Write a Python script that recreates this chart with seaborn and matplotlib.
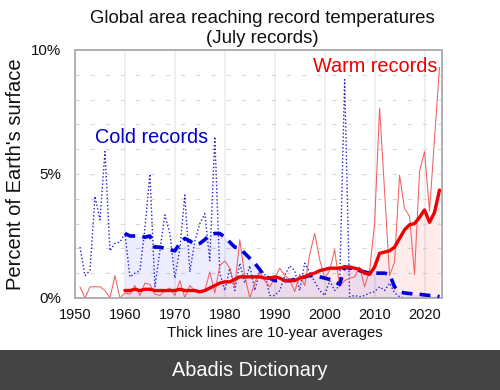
import matplotlib
matplotlib.use("Agg")
import matplotlib.pyplot as plt
import seaborn as sns
import pandas as pd
import numpy as np
from matplotlib.patches import Rectangle

years = list(range(1951, 2024))
cold_yearly = [2.05, 0.9, 1.1, 4.1, 3.15, 5.9, 1.9, 2.2, 2.25,
               2.6, 0.85, 1.0, 1.1, 2.8, 5.0, 0.45, 1.9, 3.35, 2.6,
               0.8, 2.0, 4.15, 1.05, 2.3, 3.0, 3.4, 1.5, 6.5, 1.0,
               0.3, 1.2, 0.3, 1.4, 0.6, 1.3, 0.3, 1.1, 1.0, 0.1,
               0.1, 0.3, 0.9, 1.3, 1.1, 0.3, 1.4, 1.05, 0.65, 0.3,
               0.1, 0.7, 0.3, 0.5, 8.8, 0.05, 0.1, 0.05, 0.1, 0.2,
               0.25, 0.45, 0.3, 0.6, 0.2, 0.05, 0.0, 0.0, 0.0, 0.0,
               0.0, 0.0, 0.0, 0.0]
warm_yearly = [0.45, 0.0, 0.45, 0.45, 0.45, 0.3, 0.0, 0.9, 0.0,
               0.2, 0.15, 0.5, 0.1, 0.6, 0.55, 0.15, 0.1, 0.3, 0.4,
               0.1, 0.7, 0.0, 0.5, 0.3, 0.2, 0.3, 1.05, 0.2, 1.3,
               1.5, 1.2, 0.45, 2.35, 0.9, 0.0, 0.6, 1.1, 0.7, 0.45,
               0.8, 1.2, 0.9, 0.75, 0.25, 0.95, 0.5, 1.75, 2.6, 1.55,
               0.8, 1.1, 1.95, 0.45, 0.7, 0.8, 0.85, 1.25, 0.45, 1.1,
               3.0, 7.65, 4.3, 0.9, 1.45, 4.95, 3.6, 3.3, 0.95, 5.1,
               5.9, 3.5, 6.4, 9.3]

avg_years = list(range(1960, 2024))
cold_avg = [2.6, 2.5, 2.5, 2.5, 2.45, 2.5, 2.05, 2.05, 2.0, 1.95,
            1.9, 2.2, 2.4, 2.3, 2.15, 2.2, 2.35, 2.55, 2.6, 2.6,
            2.45, 2.25, 2.05, 2.0, 1.8, 1.6, 1.4, 1.15, 0.85, 0.8,
            0.7, 0.7, 0.7, 0.7, 0.75, 0.8, 0.85, 0.9, 0.9, 0.85,
            0.8, 0.75, 0.65, 0.55, 1.25, 1.2, 1.2, 1.1, 1.05, 1.0,
            1.0, 1.0, 1.0, 0.95, 0.45, 0.25, 0.2, 0.18, 0.15, 0.15,
            0.12, 0.1, 0.1, 0.05]
warm_avg = [0.3, 0.3, 0.35, 0.3, 0.35, 0.35, 0.3, 0.3, 0.3, 0.3,
            0.3, 0.35, 0.3, 0.3, 0.3, 0.25, 0.3, 0.4, 0.5, 0.6,
            0.65, 0.65, 0.75, 0.85, 0.85, 0.85, 0.85, 0.85, 0.8, 0.8,
            0.85, 0.8, 0.7, 0.7, 0.7, 0.8, 0.85, 0.95, 1.0, 1.1,
            1.15, 1.2, 1.2, 1.2, 1.25, 1.25, 1.2, 1.15, 1.0, 0.95,
            1.25, 1.8, 1.85, 1.9, 2.05, 2.4, 2.75, 2.95, 3.0, 3.25,
            3.55, 3.05, 3.45, 4.35]

x_ticks = [1950, 1960, 1970, 1980, 1990, 2000, 2010, 2020]
y_ticks = [0, 5, 10]
y_tick_labels = ["0%", "5%", "10%"]

df_yearly = pd.DataFrame({"year": years, "cold": cold_yearly, "warm": warm_yearly})
df_avg = pd.DataFrame({"year": avg_years, "cold": cold_avg, "warm": warm_avg})

sns.set_style("white")
plt.rcParams["font.family"] = ["Liberation Sans", "DejaVu Sans"]

fig = plt.figure(figsize=(5, 3.9), dpi=100)
ax = fig.add_axes([0.15, 0.236, 0.734, 0.636])

# grid
for xv in x_ticks[1:]:
    ax.axvline(xv, color="#ececec", lw=1.2, zorder=0)
for yv in range(1, 10):
    ax.axhline(yv, color="#d6d6d6", lw=0.8, ls=(0, (3.6, 10)), zorder=0)

ax.fill_between(df_avg["year"], df_avg["warm"], color="#ff0000", alpha=0.08, lw=0, zorder=1)
ax.fill_between(df_avg["year"], df_avg["cold"], color="#0000ff", alpha=0.07, lw=0, zorder=1)

sns.lineplot(data=df_yearly, x="year", y="cold", ax=ax, color="#2222cc",
             lw=1.0, ls=(0, (1, 1.6)), zorder=2)
sns.lineplot(data=df_yearly, x="year", y="warm", ax=ax, color="#f06060",
             lw=0.75, zorder=2)
sns.lineplot(data=df_avg, x="year", y="cold", ax=ax, color="#0000dd",
             lw=2.6, ls=(0, (3, 2)), zorder=3)
sns.lineplot(data=df_avg, x="year", y="warm", ax=ax, color="#ee0000",
             lw=2.4, zorder=4)

ax.set_xlim(1950, 2023.5)
ax.set_ylim(0, 10)
ax.set_xticks(x_ticks)
ax.set_yticks(y_ticks)
ax.set_yticklabels(y_tick_labels)
ax.set_yticks(range(0, 11), minor=True)
ax.tick_params(axis="x", length=0, labelsize=10.5, colors="#111111", pad=7)
ax.tick_params(axis="y", which="major", length=4, width=1, color="#b0b0b0",
               labelsize=10.9, labelcolor="#111111", pad=6, direction="out")
ax.tick_params(axis="y", which="minor", length=4, width=1, color="#b0b0b0", direction="out")
for s in ax.spines.values():
    s.set_color("#b0b0b0")
    s.set_linewidth(1.4)

ax.set_xlabel("")
ax.set_ylabel("Percent of Earth's surface", fontsize=14.5, color="#111111")
ax.yaxis.set_label_coords(-0.136, 0.5)
fig.text(0.549, 0.146, "Thick lines are 10-year averages", ha="center", va="center",
         fontsize=10.6, color="#111111")

ax.text(1954, 6.45, "Cold records", color="#0000cc", fontsize=14.3, va="center", ha="left")
ax.text(1997.6, 9.35, "Warm records", color="#ee0000", fontsize=14.3, va="center", ha="left")

fig.text(0.525, 0.953, "Global area reaching record temperatures", ha="center", va="center",
         fontsize=13.4, color="#111111")
fig.text(0.525, 0.902, "(July records)", ha="center", va="center", fontsize=13.4, color="#111111")

fig.patches.append(Rectangle((0, 0), 1, 40 / 390, transform=fig.transFigure,
                             facecolor="#444444", edgecolor="none", zorder=-1))
fig.text(0.5, 0.051, "Abadis Dictionary", ha="center", va="center", fontsize=14.3, color="white")

fig.savefig("out.png", dpi=100)
